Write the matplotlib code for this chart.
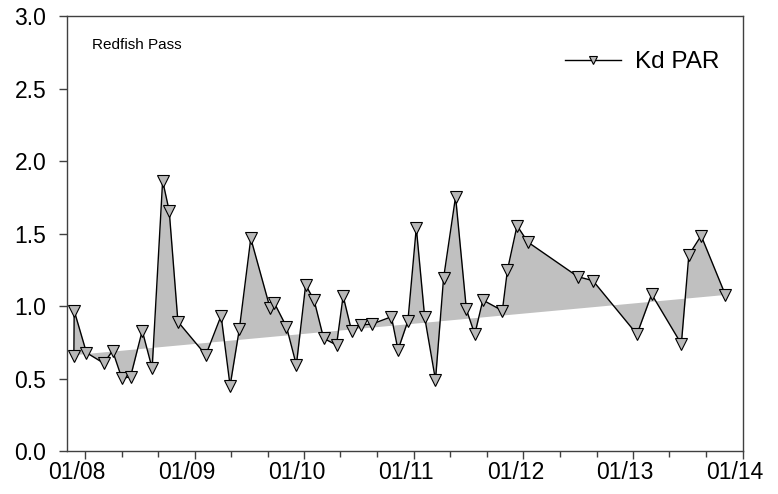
import matplotlib
matplotlib.use("Agg")
import matplotlib.pyplot as plt
import matplotlib.dates as mdates
import matplotlib.transforms as mtransforms
import numpy as np
import pandas as pd

plt.rcParams['font.family'] = ['Liberation Sans', 'DejaVu Sans']

# Sampling dates and light attenuation (Kd PAR) at Redfish Pass
dates = [
    "2007-11-24", "2007-11-25", "2008-01-05", "2008-03-03", "2008-04-01",
    "2008-05-02", "2008-05-31", "2008-07-09", "2008-08-11", "2008-09-15",
    "2008-10-07", "2008-11-05", "2009-02-06", "2009-03-29", "2009-04-28",
    "2009-05-29", "2009-07-06", "2009-09-08", "2009-09-22", "2009-11-02",
    "2009-12-05", "2010-01-05", "2010-02-02", "2010-03-06", "2010-04-18",
    "2010-05-10", "2010-06-07", "2010-07-08", "2010-08-15", "2010-10-18",
    "2010-11-09", "2010-12-12", "2011-01-09", "2011-02-06", "2011-03-14",
    "2011-04-10", "2011-05-20", "2011-06-25", "2011-07-23", "2011-08-19",
    "2011-10-23", "2011-11-09", "2011-12-11", "2012-01-16", "2012-07-01",
    "2012-08-20", "2013-01-14", "2013-03-04", "2013-06-11", "2013-07-06",
    "2013-08-16", "2013-11-05",
]
kd_par = [
    0.655, 0.968, 0.678, 0.605, 0.692,
    0.501, 0.512, 0.830, 0.570, 1.864,
    1.655, 0.892, 0.662, 0.933, 0.450,
    0.843, 1.467, 0.988, 1.023, 0.857,
    0.593, 1.145, 1.041, 0.777, 0.731,
    1.069, 0.830, 0.869, 0.876, 0.926,
    0.697, 0.897, 1.540, 0.922, 0.490,
    1.193, 1.754, 0.977, 0.805, 1.041,
    0.968, 1.248, 1.554, 1.441, 1.202,
    1.175, 0.805, 1.081, 0.738, 1.352,
    1.485, 1.076,
]

# Linear trend: value at the first and at the last sampling date
trend_ends = [0.665, 1.08]

site_name = "Redfish Pass"
series_name = "Kd PAR"
year_ticks = ["2008-01-01", "2009-01-01", "2010-01-01", "2011-01-01",
              "2012-01-01", "2013-01-01", "2014-01-01"]
year_labels = ["01/08", "01/09", "01/10", "01/11", "01/12", "01/13", "01/14"]
y_ticks = [0.0, 0.5, 1.0, 1.5, 2.0, 2.5, 3.0]

t = pd.to_datetime(dates)
x = mdates.date2num(t)
y = np.array(kd_par)

trend = np.interp(x, [x[0], x[-1]], trend_ends)

FS = 16.5
fig = plt.figure(figsize=(7.78, 4.94), dpi=100)
ax = fig.add_axes([0.0861, 0.0870, 0.8683, 0.8806])

ax.fill_between(x, y, trend, color="#c0c0c0", linewidth=0, interpolate=True,
                zorder=1)
ax.plot(x, y, color="black", linewidth=1.0, marker="v", markersize=8,
        markerfacecolor="#b8b8b8", markeredgecolor="black",
        markeredgewidth=0.8, zorder=3, label=series_name)

ax.set_xlim(mdates.date2num(pd.Timestamp("2007-11-01")),
            mdates.date2num(pd.Timestamp("2014-01-01")))
ax.set_ylim(0, 3.0)

ax.set_xticks(mdates.date2num(pd.to_datetime(year_ticks)))
ax.set_xticklabels(year_labels)
minor = pd.date_range("2008-01-01", "2014-01-01", freq="4MS")
ax.set_xticks(mdates.date2num(minor), minor=True)
ax.set_yticks(y_ticks)
ax.set_yticklabels([f"{v:.1f}" for v in y_ticks])

for s in ax.spines.values():
    s.set_color("#404040")
    s.set_linewidth(1.0)

ax.tick_params(axis="both", which="major", direction="out", length=6,
               width=1.0, color="#404040", labelsize=FS, labelcolor="black")
ax.tick_params(axis="x", which="minor", direction="out", length=4,
               width=1.0, color="#404040")
ax.tick_params(axis="x", which="major", pad=1.5)
ax.tick_params(axis="y", which="major", pad=9)

# Year labels sit a little left of their ticks
shift = mtransforms.ScaledTranslation(-8 / 100, 0, fig.dpi_scale_trans)
for lbl in ax.get_xticklabels():
    lbl.set_transform(lbl.get_transform() + shift)

ax.text(0.037, 0.933, site_name, transform=ax.transAxes, fontsize=11,
        ha="left", va="center")

ax.legend(loc="center left", bbox_to_anchor=(0.719, 0.894), frameon=False,
          borderpad=0, fontsize=17.5, handlelength=2.3, handletextpad=0.6,
          markerscale=0.75)

fig.savefig("out.png", dpi=100)
